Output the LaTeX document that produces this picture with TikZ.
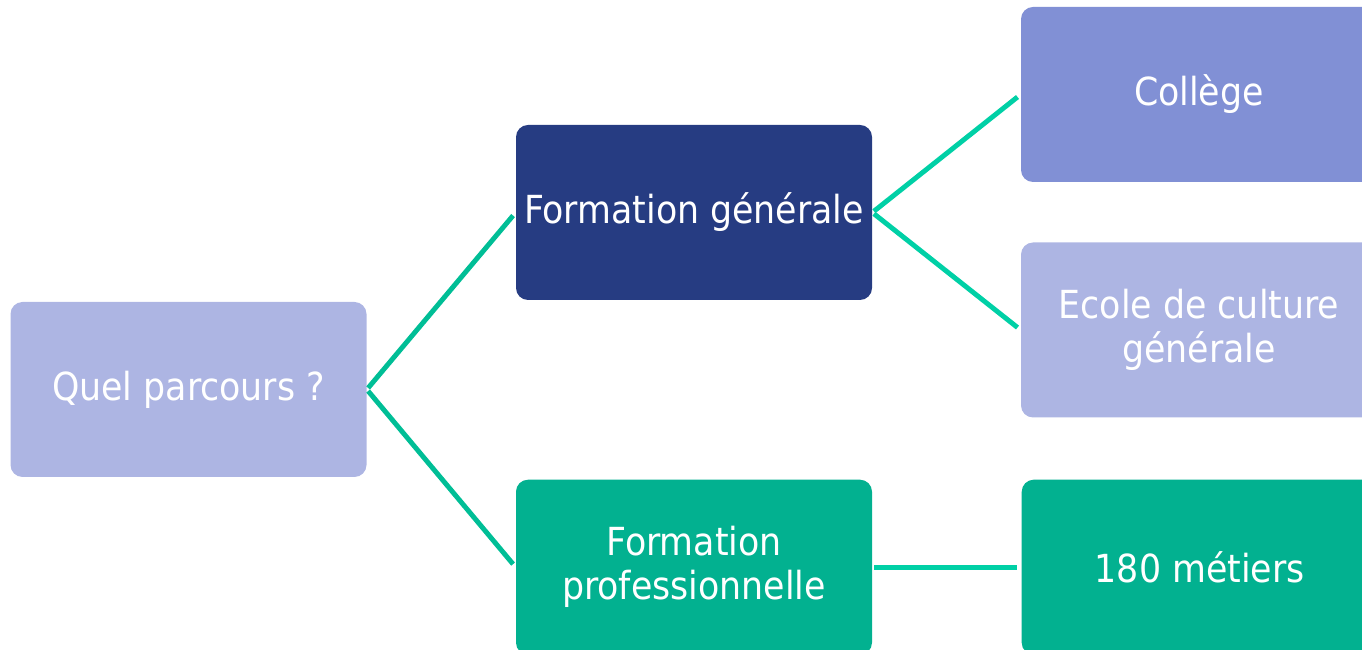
\documentclass[tikz,border=0pt]{standalone}
\usepackage{fontspec}
\setmainfont{DejaVu Sans Condensed}
\usepackage{tikz}
\usetikzlibrary{positioning}
\definecolor{lavender}{HTML}{ADB5E3}
\definecolor{periwinkle}{HTML}{8190D5}
\definecolor{navy}{HTML}{263C82}
\definecolor{teal}{HTML}{02B190}
\definecolor{linkleft}{HTML}{00BE96}
\definecolor{linkright}{HTML}{00D0A6}
\tikzstyle{choice} = [rectangle, rounded corners=0.24cm, 
minimum width=7.12cm, 
minimum height=3.5cm,
inner xsep=0pt,
align=center, 
text=white,
font=\fontsize{22}{25}\selectfont]
\tikzstyle{link} = [line width=2.8pt, shorten >=0.08cm, shorten <=0.04cm]

\begin{document}
\begin{tikzpicture}

\useasboundingbox (0,0) rectangle (27.24,-13);
\clip (0,0) rectangle (27.24,-13);

\node (quel) [choice, fill=lavender] at (3.77,-7.79) {Quel parcours ?};

\node (gen) [choice, fill=navy] at (13.88,-4.25) {Formation générale};
\node (pro) [choice, fill=teal, below=3.58cm of gen] {Formation\\professionnelle};

\node (college) [choice, fill=periwinkle] at (23.98,-1.89) {Collège};
\node (ecg) [choice, fill=lavender] at (23.98,-6.6) {Ecole de culture\\générale};
\node (metiers) [choice, fill=teal, right=2.98cm of pro] {180 métiers};

\draw [link, linkleft] (quel.east) -- (gen.west);
\draw [link, linkleft] (quel.east) -- (pro.west);
\draw [link, linkright] (gen.east) -- (college.west);
\draw [link, linkright] (gen.east) -- (ecg.west);
\draw [link, linkright] (pro.east) -- (metiers.west);

\end{tikzpicture}
\end{document}
